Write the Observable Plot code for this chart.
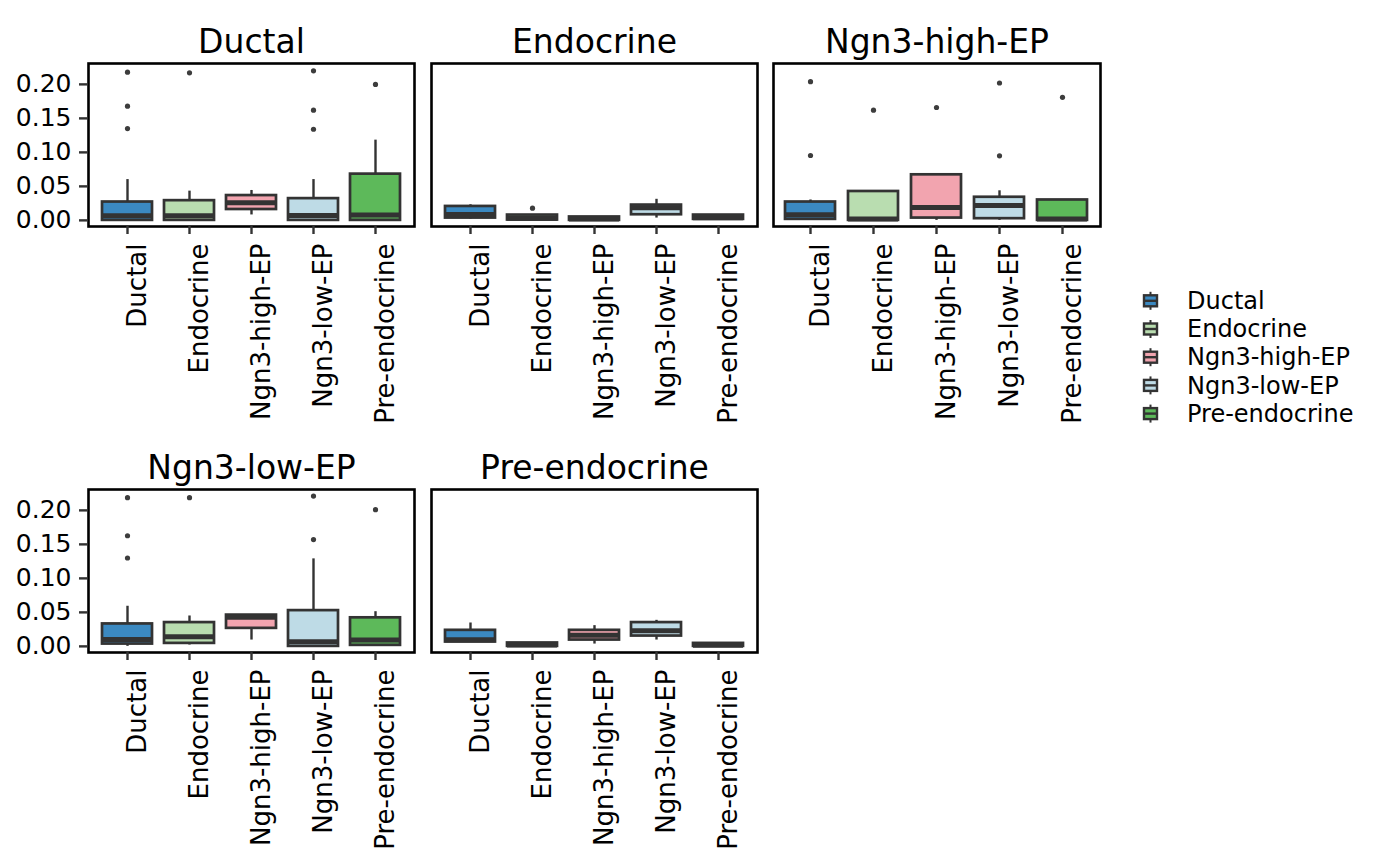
<!DOCTYPE html>
<html><head><meta charset="utf-8">
<script src="https://cdn.jsdelivr.net/npm/d3@7"></script>
<script src="https://cdn.jsdelivr.net/npm/@observablehq/plot@0.6"></script>
<style>
body{margin:0;background:#fff;}
#chart{position:relative;width:1400px;height:866px;font-family:"DejaVu Sans";overflow:hidden;}
#chart svg{position:absolute;}
</style></head><body><div id="chart"></div>
<script>
// categories (x within each panel) and panel titles
const cellTypes = ["Ductal", "Endocrine", "Ngn3-high-EP", "Ngn3-low-EP", "Pre-endocrine"];
const panelTitles = ["Ductal", "Endocrine", "Ngn3-high-EP", "Ngn3-low-EP", "Pre-endocrine"];
const palette = ["#3b89c1", "#b9ddb0", "#f2a4af", "#bedbe6", "#5db95a"];
const yTicks = [0, 0.05, 0.10, 0.15, 0.20];

// box statistics: rows = panel, columns = category
const lowWhisker = [
  [0.000, 0.000, 0.008, 0.000, 0.000],
  [0.002, 0.000, 0.000, 0.0034, 0.0015],
  [0.000, 0.000, 0.000, 0.000, 0.000],
  [0.000, 0.002, 0.0093, 0.000, 0.000],
  [0.0064, 0.000, 0.0034, 0.0093, 0.000]
];
const q1 = [
  [0.000, 0.000, 0.016, 0.000, 0.000],
  [0.0034, 0.0005, 0.000, 0.0083, 0.0015],
  [0.0015, 0.000, 0.0034, 0.0025, 0.000],
  [0.0034, 0.0044, 0.0265, 0.000, 0.0015],
  [0.0064, 0.000, 0.0093, 0.0152, 0.000]
];
const median = [
  [0.0068, 0.0068, 0.026, 0.007, 0.008],
  [0.0088, 0.003, 0.002, 0.0186, 0.004],
  [0.0083, 0.002, 0.019, 0.022, 0.002],
  [0.0103, 0.0143, 0.043, 0.0069, 0.0093],
  [0.0098, 0.002, 0.0162, 0.0231, 0.0015]
];
const q3 = [
  [0.027, 0.029, 0.0365, 0.032, 0.068],
  [0.0205, 0.0078, 0.005, 0.0225, 0.0078],
  [0.027, 0.0425, 0.067, 0.034, 0.030],
  [0.033, 0.035, 0.046, 0.0526, 0.042],
  [0.0236, 0.005, 0.0236, 0.035, 0.0044]
];
const highWhisker = [
  [0.060, 0.043, 0.044, 0.060, 0.118],
  [0.023, 0.0078, 0.005, 0.031, 0.0078],
  [0.030, 0.0425, 0.067, 0.0435, 0.030],
  [0.059, 0.0447, 0.046, 0.1287, 0.051],
  [0.0344, 0.005, 0.0305, 0.0383, 0.0044]
];
const outliers = [
  [[0.218, 0.168, 0.135], [0.217], [], [0.220, 0.162, 0.134], [0.200]],
  [[], [0.018], [], [], []],
  [[0.204, 0.0954], [0.162], [0.166], [0.202, 0.095], [0.181]],
  [[0.2187, 0.1627, 0.130], [0.2187], [], [0.221, 0.157], [0.201]],
  [[], [], [], [], []]
];

// layout of the panel frames
const frames = [
  {left: 88, top: 63, width: 326, col: 0},
  {left: 431, top: 63, width: 326, col: 1},
  {left: 773, top: 63, width: 327, col: 2},
  {left: 88, top: 489, width: 326, col: 0},
  {left: 431, top: 489, width: 326, col: 1}
];
const frameH = 163, mTop = 63, mBottom = 200, mRight = 12;
const dark = "#333333";
const chart = document.getElementById("chart");

panelTitles.forEach((title, p) => {
  const f = frames[p];
  const mLeft = f.col === 0 ? 88 : 20;
  const stats = cellTypes.map((cat, c) => ({
    cat, lo: lowWhisker[p][c], q1: q1[p][c], med: median[p][c], q3: q3[p][c], hi: highWhisker[p][c]
  }));
  const outs = cellTypes.flatMap((cat, c) => outliers[p][c].map(v => ({cat, v})));
  const marks = [
    Plot.ruleX(stats, {x: "cat", y1: "q3", y2: "hi", stroke: dark, strokeWidth: 2.4}),
    Plot.ruleX(stats, {x: "cat", y1: "lo", y2: "q1", stroke: dark, strokeWidth: 2.4}),
    Plot.barY(stats, {x: "cat", y1: "q1", y2: "q3", fill: "cat", stroke: dark, strokeWidth: 2.7}),
    Plot.tickY(stats, {x: "cat", y: "med", stroke: dark, strokeWidth: 5}),
    Plot.dot(outs, {x: "cat", y: "v", r: 2.6, fill: "#3d3d3d", stroke: null}),
    Plot.frame({stroke: "black", strokeWidth: 2.6}),
    Plot.axisX({tickSize: 8, tickFormat: () => "", stroke: dark, strokeWidth: 2.4, label: null}),
    Plot.text(cellTypes, {x: d => d, frameAnchor: "bottom", rotate: -90, textAnchor: "end", lineAnchor: "top", dy: 17, fontSize: 26, fill: "black"}),
    Plot.text([title], {frameAnchor: "top", lineAnchor: "bottom", dy: -11, fontSize: 33, fill: "black"})
  ];
  if (f.col === 0) {
    marks.push(Plot.axisY({ticks: yTicks, tickFormat: d3.format(".2f"), tickSize: 9, tickPadding: 8, fontSize: 25, stroke: dark, strokeWidth: 2.4, fill: "black", label: null}));
  }
  const svg = Plot.plot({
    width: mLeft + f.width + mRight,
    height: mTop + frameH + mBottom,
    marginLeft: mLeft, marginRight: mRight, marginTop: mTop, marginBottom: mBottom,
    style: {background: "transparent", overflow: "visible", fontFamily: "DejaVu Sans", fontSize: "25px"},
    x: {type: "band", domain: cellTypes, paddingInner: 0.2, paddingOuter: 0.19, axis: null, label: null},
    y: {domain: [-0.009, 0.2307], axis: null, label: null},
    color: {domain: cellTypes, range: palette},
    marks
  });
  svg.style.left = (f.left - mLeft) + "px";
  svg.style.top = (f.top - mTop) + "px";
  chart.appendChild(svg);
});

// legend
const legend = d3.select(chart).append("svg")
  .attr("width", 270).attr("height", 170)
  .style("left", "1130px").style("top", "272px")
  .attr("font-family", "DejaVu Sans");
const legendStep = 28.2;
cellTypes.forEach((cat, i) => {
  const cy = 85.2 + (i - 2) * legendStep;
  const g = legend.append("g");
  g.append("line").attr("x1", 20.5).attr("x2", 20.5).attr("y1", cy - 9).attr("y2", cy + 9).attr("stroke", dark).attr("stroke-width", 2);
  g.append("rect").attr("x", 14).attr("y", cy - 5.5).attr("width", 13).attr("height", 11)
    .attr("fill", palette[i]).attr("stroke", dark).attr("stroke-width", 2.4);
  g.append("line").attr("x1", 14).attr("x2", 27).attr("y1", cy).attr("y2", cy).attr("stroke", dark).attr("stroke-width", 2.4);
  g.append("text").attr("x", 57).attr("y", cy + 8.2).attr("font-size", 24).attr("fill", "black").text(cat);
});
</script></body></html>
